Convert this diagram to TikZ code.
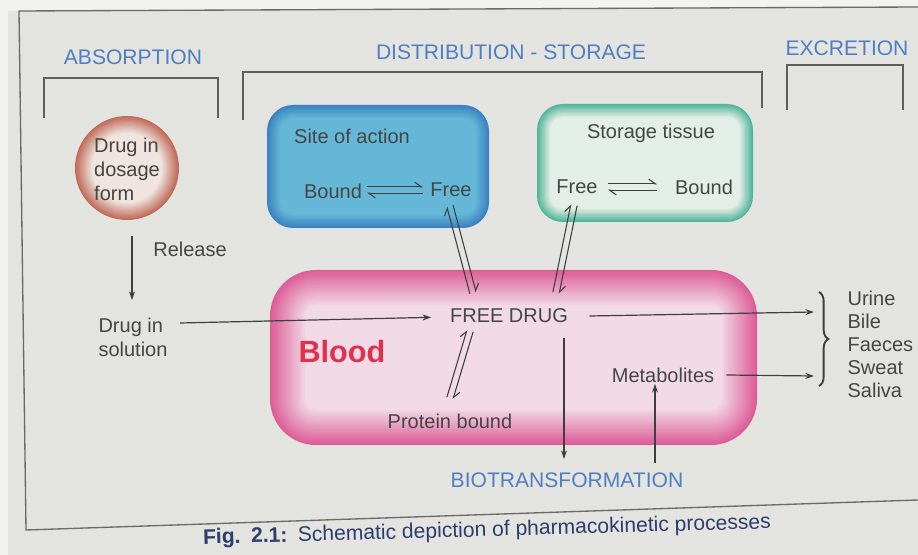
\documentclass[tikz,border=0pt]{standalone}
\usepackage{fontspec}
\setmainfont{Liberation Sans}
\usetikzlibrary{arrows.meta,calc,decorations.pathreplacing}
\definecolor{outbg}{HTML}{F2F2F0}
\definecolor{bg}{HTML}{E3E4DF}
\definecolor{framecol}{HTML}{6A6A66}
\definecolor{txt}{HTML}{454545}
\definecolor{headblue}{HTML}{4F7EC2}
\definecolor{ln}{HTML}{3E3E3E}
\definecolor{brkcol}{HTML}{5E5E5A}
\definecolor{siteOut}{HTML}{3A82C2}
\definecolor{siteIn}{HTML}{64B7D6}
\definecolor{stOut}{HTML}{52B49A}
\definecolor{stIn}{HTML}{E4EEE8}
\definecolor{bloodOut}{HTML}{DD5E97}
\definecolor{bloodIn}{HTML}{F1DAE5}
\definecolor{drugOut}{HTML}{C06A58}
\definecolor{drugIn}{HTML}{EFE4DF}
\definecolor{bloodtxt}{HTML}{E0304E}
\definecolor{capcol}{HTML}{2E3C6E}
\newcommand{\myfs}{\fontsize{15}{18}\selectfont}
\newcommand{\headfs}{\fontsize{15.8}{18}\selectfont}
\newcommand{\eqarrow}[2]{%
  \draw[harp] ($(#1)!2.4pt!90:(#2)$) -- ($(#2)!2.4pt!-90:(#1)$);
  \draw[harp] ($(#2)!2.4pt!90:(#1)$) -- ($(#1)!2.4pt!-90:(#2)$);
}
\tikzset{
  lbl/.style={font=\myfs, text=txt, inner sep=1pt},
  head/.style={font=\headfs, text=headblue, inner sep=1pt},
  arr/.style={draw=ln, line width=0.9pt, -{Stealth[length=6.5pt,width=4.5pt]}},
  harp/.style={draw=ln, line width=0.8pt, -{Straight Barb[harpoon,length=5pt,width=7pt]}},
  brk/.style={draw=brkcol, line width=1pt},
}
\begin{document}
\begin{tikzpicture}[x=0.75pt,y=-0.75pt]
\useasboundingbox (0,0) rectangle (918,555);
\fill[outbg] (0,0) rectangle (918,555);
\fill[bg] (8,11) -- (918,6) -- (918,555) -- (8,555) -- cycle;
\draw[framecol, line width=1pt] (918,7) -- (19,11) -- (26,530) -- (918,500);

% brackets
\draw[brk] (44,118) -- (44,78) -- (218,78) -- (218,118);
\draw[brk] (243,120) -- (243,72) -- (762,72) -- (762,108);
\draw[brk] (787,110) -- (787,65) -- (903,65) -- (903,110);
\node[head] (absorb) at (133,57) {ABSORPTION};
\node[head] (distr) at (511,52) {DISTRIBUTION - STORAGE};
\node[head] (excr) at (847,48) {EXCRETION};

% drug circle
\foreach \i in {0,...,16}{
  \pgfmathsetmacro\p{min(100,\i*100/14)}
  \fill[drugIn!\p!drugOut] (127,168) circle ({(52-\i*1.2)*0.75pt});
}
\node[lbl, align=left] (dose) at (127,169) {Drug in\\dosage\\form};

% site of action box
\foreach \i in {0,...,12}{
  \pgfmathsetmacro\p{min(100,\i*100/10)}
  \pgfmathsetmacro\rr{(26-\i*1.3)*0.75}
  \fill[siteIn!\p!siteOut, rounded corners=\rr pt] ({267+\i*1.3},{105+\i*1.3}) rectangle ({489-\i*1.3},{228-\i*1.3});
}
% storage box
\foreach \i in {0,...,12}{
  \pgfmathsetmacro\p{min(100,\i*100/10)}
  \pgfmathsetmacro\rr{(26-\i*1.3)*0.75}
  \fill[stIn!\p!stOut, rounded corners=\rr pt] ({537+\i*1.3},{104+\i*1.3}) rectangle ({753-\i*1.3},{222-\i*1.3});
}
% blood box
\foreach \i in {0,...,18}{
  \pgfmathsetmacro\p{min(100,\i*100/16)}
  \pgfmathsetmacro\rr{(46-\i*2.2)*0.75}
  \fill[bloodIn!\p!bloodOut, rounded corners=\rr pt] ({270+\i*2.2},{270+\i*2.2}) rectangle ({757-\i*2.2},{445-\i*2.2});
}

% texts in boxes
\node[lbl] (siteT) at (352,136) {Site of action};
\node[lbl] (bound1) at (333,191) {Bound};
\node[lbl] (free1) at (451,190) {Free};
\node[lbl] (storT) at (651,133) {Storage tissue};
\node[lbl] (free2) at (577,187) {Free};
\node[lbl] (bound2) at (704,187) {Bound};
\node[lbl] (free) at (509,316) {FREE DRUG};
\node[font=\fontsize{23}{26}\selectfont\bfseries, text=bloodtxt] (blood) at (342,352) {Blood};
\node[lbl] (prot) at (450,421) {Protein bound};
\node[lbl] (metab) at (663,375) {Metabolites};
\node[head] (bio) at (567,480) {BIOTRANSFORMATION};

% left side
\node[lbl] (release) at (190,249) {Release};
\node[lbl, align=left] (sol) at (133,337) {Drug in\\solution};

% excretion list
\node[lbl, align=left, anchor=west, font=\fontsize{15}{17.3}\selectfont] (list) at (846,344) {Urine\\Bile\\Faeces\\Sweat\\Saliva};
\coordinate (braceTop) at (819,292);
\coordinate (braceBot) at (819,386);
\draw[ln, line width=1.4pt, decorate, decoration={brace, amplitude=7pt}] (braceTop) -- (braceBot);

% arrows
\coordinate (relA) at (132,236);
\coordinate (relB) at (132,300);
\draw[arr] (relA) -- (relB);
\coordinate (solA) at (180,323);
\draw[arr] (solA) -- ([xshift=-13pt,yshift=-1pt]free.west);
\coordinate (exc1) at (814,312);
\draw[arr] ([xshift=15pt]free.east) -- (exc1);
\coordinate (exc2) at (814,376);
\draw[arr] ([xshift=8pt]metab.east) -- (exc2);
\coordinate (fdown) at (564,338);
\coordinate (bioIn) at (564,459);
\draw[arr] (fdown) -- (bioIn);
\coordinate (metFoot) at (655,463);
\draw[arr] (metFoot) -- (metFoot |- metab.south);

% equilibrium arrows
\coordinate (e1a) at (367,190);
\coordinate (e1b) at (423,190);
\eqarrow{e1a}{e1b}
\coordinate (e2a) at (608,187);
\coordinate (e2b) at (657,187);
\eqarrow{e2a}{e2b}
\coordinate (d1a) at (473,293);
\coordinate (d1b) at (450,206);
\eqarrow{d1a}{d1b}
\coordinate (d2a) at (574,205);
\coordinate (d2b) at (556,293);
\eqarrow{d2a}{d2b}
\coordinate (d3a) at (470,331);
\coordinate (d3b) at (450,398);
\eqarrow{d3a}{d3b}

% caption
\node[font=\fontsize{15.8}{18}\selectfont, text=capcol, rotate=1.6] (cap) at (487,531) {\textbf{Fig.}\enspace\textbf{2.1:}\enspace Schematic depiction of pharmacokinetic processes};
\end{tikzpicture}
\end{document}
